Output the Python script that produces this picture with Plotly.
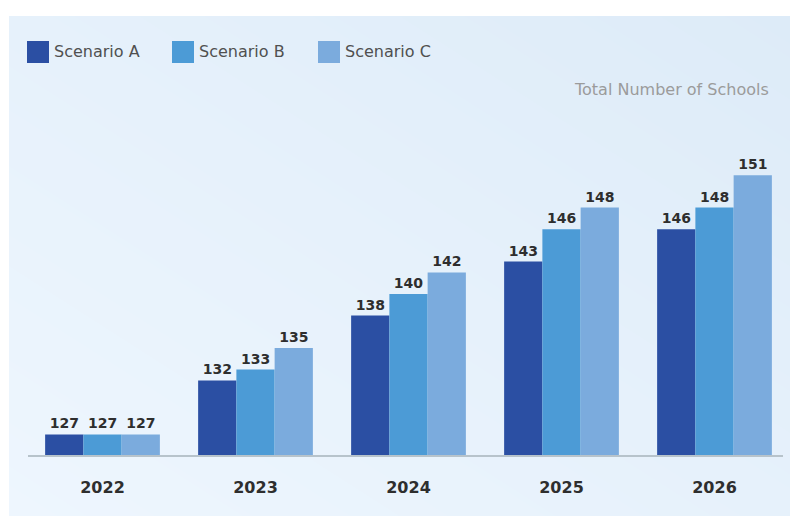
import plotly.graph_objects as go

# ---- data ----
years = ["2022", "2023", "2024", "2025", "2026"]
scenario_a = [127, 132, 138, 143, 146]
scenario_b = [127, 133, 140, 146, 148]
scenario_c = [127, 135, 142, 148, 151]
series_names = ["Scenario A", "Scenario B", "Scenario C"]
subtitle = "Total Number of Schools"

# ---- style ----
W, H = 790, 516
colors = ["#2b4fa3", "#4c9bd6", "#7babdd"]
FONT = "DejaVu Sans"

# plot box in pixels
PL, PR, PT, PB = 26, 790, 132, 456
SLOT = 153        # px per year category
UNIT = 10.8       # px per school


def fx(x):
    return x / W


def fy(y):
    return (H - y) / H


fig = go.Figure()

# soft diagonal gradient panel behind the chart
fig.add_trace(go.Heatmap(
    x=[0, 1], y=[0, 1], z=[[0, 1], [1, 2]], zsmooth="best", showscale=False,
    colorscale=[[0, "#eef6fe"], [0.5, "#e6f1fb"], [1, "#ddebf8"]],
    hoverinfo="skip", xaxis="x", yaxis="y",
))

for name, vals, col in zip(series_names, [scenario_a, scenario_b, scenario_c], colors):
    fig.add_trace(go.Bar(
        x=years, y=vals, name=name, marker=dict(color=col, line=dict(width=0)),
        text=[str(v) for v in vals], textposition="outside", cliponaxis=False,
        textfont=dict(family=FONT, size=14, color="#2e2e2e", weight="bold"),
        xaxis="x2", yaxis="y2", showlegend=False,
    ))

shapes = [
    # baseline
    dict(type="line", xref="paper", yref="paper", x0=fx(28), x1=fx(783),
         y0=fy(PB), y1=fy(PB), line=dict(color="#b7c3cb", width=2), layer="above"),
]
annotations = [
    dict(text=subtitle, xref="paper", yref="paper", x=fx(771), y=fy(90),
         xanchor="right", yanchor="middle", showarrow=False,
         font=dict(family=FONT, size=16, color="#9b9b9b")),
]
# legend drawn as swatches plus labels
leg_x = [27, 172, 318]
for lx, name, col in zip(leg_x, series_names, colors):
    shapes.append(dict(type="rect", xref="paper", yref="paper", x0=fx(lx), x1=fx(lx + 22),
                       y0=fy(63), y1=fy(41), fillcolor=col, line=dict(width=0)))
    annotations.append(dict(text=name, xref="paper", yref="paper", x=fx(lx + 25), y=fy(52),
                            xanchor="left", yanchor="middle", showarrow=False,
                            font=dict(family=FONT, size=16, color="#505050")))

fig.update_layout(
    width=W, height=H, margin=dict(l=0, r=0, t=0, b=0),
    paper_bgcolor="white", plot_bgcolor="rgba(0,0,0,0)",
    barmode="group", bargap=0.25, bargroupgap=0,
    shapes=shapes, annotations=annotations,
    xaxis=dict(domain=[fx(9), 1], range=[0, 1], visible=False, fixedrange=True),
    yaxis=dict(domain=[0, fy(16)], range=[0, 1], visible=False, fixedrange=True),
    xaxis2=dict(domain=[fx(PL), fx(PR)], anchor="y2", range=[-0.5, (PR - PL) / SLOT - 0.5],
                showline=False, showgrid=False, zeroline=False, ticks="", ticklabelstandoff=20,
                tickfont=dict(family=FONT, size=16, color="#2e2e2e", weight="bold")),
    yaxis2=dict(domain=[fy(PB), fy(PT)], anchor="x2", range=[125, 125 + (PB - PT) / UNIT],
                visible=False),
    showlegend=False,
)
fig.write_html("out.html")
